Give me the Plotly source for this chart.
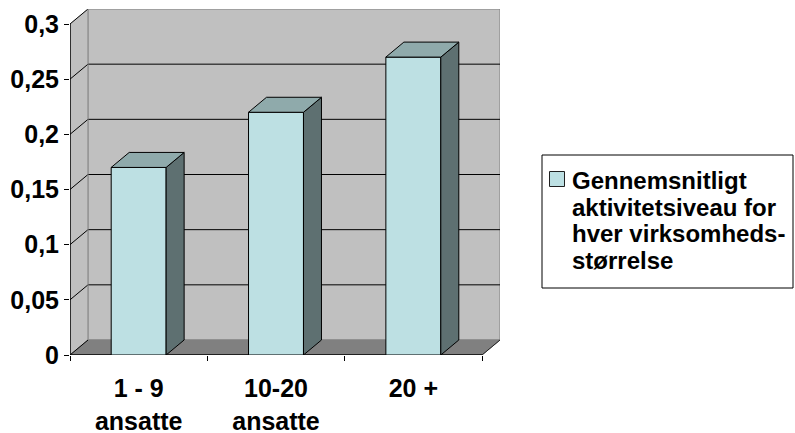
import plotly.graph_objects as go

# Average activity level per company size
categories = ["1 - 9<br>ansatte", "10-20<br>ansatte", "20 +"]
values = [0.17, 0.22, 0.27]
legend_lines = ["Gennemsnitligt", "aktivitetsiveau for", "hver virksomheds-", "størrelse"]
y_tickvals = [0, 0.05, 0.1, 0.15, 0.2, 0.25, 0.3]
y_ticktext = ["0", "0,05", "0,1", "0,15", "0,2", "0,25", "0,3"]

# 3D look: depth offset of the back wall, in axis units
n = len(categories)
y_max = 0.3
depth_x = n * 18 / 412
depth_y = y_max * 15 / 331
bar_w = 0.4

FRONT = "#BDE0E3"
TOP = "#8FAAAB"
SIDE = "#5E7071"
WALL = "#C0C0C0"
FLOOR = "#808080"
FAMILY = "Liberation Sans, Arial, sans-serif"
FONT = dict(family=FAMILY, size=25, color="black", weight="bold")
LEG_FONT = dict(family=FAMILY, size=24, color="black", weight="bold")

# plot area in pixels (for placing the legend box in paper coordinates)
W, H = 795, 433
ML, MR, MT, MB = 70, 295, 9, 78
PW, PH = W - ML - MR, H - MT - MB

def px(x):
    return (x - ML) / PW

def py(y):
    return (H - MB - y) / PH

xs = [i + 0.5 for i in range(n)]

fig = go.Figure()
fig.add_trace(go.Bar(
    x=xs, y=values, width=bar_w, name=" ".join(legend_lines),
    marker=dict(color=FRONT, line=dict(color="black", width=1)),
    showlegend=False,
))

shapes = []

def poly(pts, fill, line_color, layer, lw=1):
    d = "M " + " L ".join(f"{x},{y}" for x, y in pts) + " Z"
    return dict(type="path", path=d, xref="x", yref="y", fillcolor=fill,
                line=dict(color=line_color, width=lw), layer=layer)

def seg(x0, y0, x1, y1, color="black", layer="below", lw=1):
    return dict(type="line", x0=x0, y0=y0, x1=x1, y1=y1, xref="x", yref="y",
                line=dict(color=color, width=lw), layer=layer)

x_end = n
# back wall
shapes.append(poly([(depth_x, depth_y), (x_end + depth_x, depth_y),
                    (x_end + depth_x, y_max + depth_y), (depth_x, y_max + depth_y)],
                   WALL, FLOOR, "below"))
# side wall
shapes.append(poly([(0, 0), (depth_x, depth_y), (depth_x, y_max + depth_y), (0, y_max)],
                   WALL, WALL, "below"))
# floor
shapes.append(poly([(0, 0), (depth_x, depth_y), (x_end + depth_x, depth_y), (x_end, 0)],
                   FLOOR, FLOOR, "below"))
# gridlines on both walls
for v in y_tickvals[1:-1]:
    shapes.append(seg(depth_x, v + depth_y, x_end + depth_x, v + depth_y))
for v in y_tickvals[1:]:
    shapes.append(seg(0, v, depth_x, v + depth_y))
# wall edges
shapes.append(seg(depth_x, depth_y, depth_x, y_max + depth_y, color=FLOOR))
shapes.append(seg(0, 0, depth_x, depth_y))
# floor right edge and front edges (axes)
shapes.append(seg(x_end, 0, x_end + depth_x, depth_y, color="#202020"))
shapes.append(seg(0, 0, x_end, 0, lw=1.5))
shapes.append(seg(0, 0, 0, y_max, lw=1.5))

# top and side faces of each bar
for x, v in zip(xs, values):
    x0, x1 = x - bar_w / 2, x + bar_w / 2
    shapes.append(poly([(x1, 0), (x1 + depth_x, depth_y), (x1 + depth_x, v + depth_y), (x1, v)],
                       SIDE, "black", "above"))
    shapes.append(poly([(x0, v), (x1, v), (x1 + depth_x, v + depth_y), (x0 + depth_x, v + depth_y)],
                       TOP, "black", "above"))

# legend box with swatch
shapes.append(dict(type="rect", xref="paper", yref="paper",
                   x0=px(542), x1=px(793), y0=py(288), y1=py(155),
                   line=dict(color="black", width=1), fillcolor="white"))
shapes.append(dict(type="rect", xref="paper", yref="paper",
                   x0=px(549.5), x1=px(564.5), y0=py(186.5), y1=py(171.5),
                   line=dict(color="#202020", width=1), fillcolor=FRONT))

annotations = []
for i, line in enumerate(legend_lines):
    annotations.append(dict(
        text=line, xref="paper", yref="paper", x=px(570), y=py(180.5 + 26.7 * i),
        xanchor="left", yanchor="middle", showarrow=False, font=LEG_FONT,
    ))

fig.update_layout(
    width=W, height=H,
    margin=dict(l=ML, r=MR, t=MT, b=MB, pad=0, autoexpand=False),
    paper_bgcolor="white", plot_bgcolor="white",
    shapes=shapes, annotations=annotations,
    showlegend=False,
    xaxis=dict(
        range=[0, x_end + depth_x], showgrid=False, zeroline=False, showline=False,
        tickvals=xs, ticktext=categories, ticks="outside", ticklen=11,
        tickcolor="rgba(0,0,0,0)", tickfont=FONT, automargin=False,
        minor=dict(tickvals=list(range(n + 1)), ticks="outside", ticklen=5,
                   tickcolor="black", tickwidth=1, showgrid=False),
        fixedrange=True,
    ),
    yaxis=dict(
        range=[0, y_max + depth_y], showgrid=False, zeroline=False, showline=False,
        tickvals=y_tickvals, ticktext=y_ticktext, ticks="outside", ticklen=5,
        tickcolor="black", tickwidth=1, tickfont=FONT, fixedrange=True, automargin=False,
    ),
)

fig.write_html("out.html")
